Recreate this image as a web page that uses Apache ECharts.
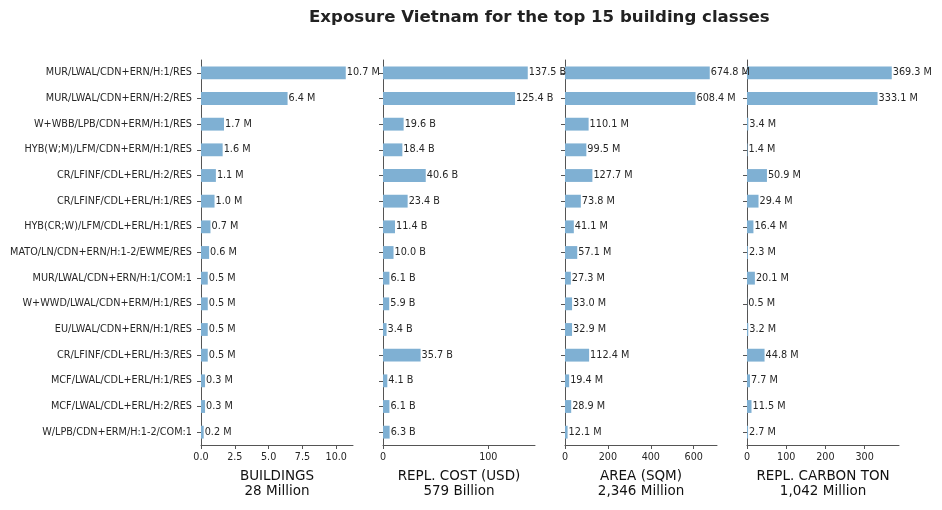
<!DOCTYPE html>
<html>
<head>
<meta charset="utf-8">
<script src="https://cdn.jsdelivr.net/npm/echarts@6/dist/echarts.min.js"></script>
<style>
  html, body { margin: 0; padding: 0; background: #fff; }
  #chart { width: 942px; height: 510px; }
</style>
</head>
<body>
<div id="chart"></div>
<script>
// building classes, top to bottom
const classes = [
  'MUR/LWAL/CDN+ERN/H:1/RES',
  'MUR/LWAL/CDN+ERN/H:2/RES',
  'W+WBB/LPB/CDN+ERM/H:1/RES',
  'HYB(W;M)/LFM/CDN+ERM/H:1/RES',
  'CR/LFINF/CDL+ERL/H:2/RES',
  'CR/LFINF/CDL+ERL/H:1/RES',
  'HYB(CR;W)/LFM/CDL+ERL/H:1/RES',
  'MATO/LN/CDN+ERN/H:1-2/EWME/RES',
  'MUR/LWAL/CDN+ERN/H:1/COM:1',
  'W+WWD/LWAL/CDN+ERM/H:1/RES',
  'EU/LWAL/CDN+ERN/H:1/RES',
  'CR/LFINF/CDL+ERL/H:3/RES',
  'MCF/LWAL/CDL+ERL/H:1/RES',
  'MCF/LWAL/CDL+ERL/H:2/RES',
  'W/LPB/CDN+ERM/H:1-2/COM:1'
];

// values per panel
const buildings = [10.7, 6.4, 1.7, 1.6, 1.1, 1.0, 0.7, 0.6, 0.5, 0.5, 0.5, 0.5, 0.3, 0.3, 0.2]; // million
const replCost = [137.5, 125.4, 19.6, 18.4, 40.6, 23.4, 11.4, 10.0, 6.1, 5.9, 3.4, 35.7, 4.1, 6.1, 6.3]; // billion USD
const area = [674.8, 608.4, 110.1, 99.5, 127.7, 73.8, 41.1, 57.1, 27.3, 33.0, 32.9, 112.4, 19.4, 28.9, 12.1]; // million sqm
const carbon = [369.3, 333.1, 3.4, 1.4, 50.9, 29.4, 16.4, 2.3, 20.1, 0.5, 3.2, 44.8, 7.7, 11.5, 2.7]; // million ton

// x tick labels per panel
const ticksBuildings = [0, 2.5, 5, 7.5, 10];
const ticksCost = [0, 100];
const ticksArea = [0, 200, 400, 600];
const ticksCarbon = [0, 100, 200, 300];

const panelNames = ['BUILDINGS\n28 Million', 'REPL. COST (USD)\n579 Billion', 'AREA (SQM)\n2,346 Million', 'REPL. CARBON TON\n1,042 Million'];
const units = [' M', ' B', ' M', ' M'];

const panels = [
  { data: buildings, ticks: ticksBuildings, dec: 1 },
  { data: replCost, ticks: ticksCost, dec: 0 },
  { data: area, ticks: ticksArea, dec: 0 },
  { data: carbon, ticks: ticksCarbon, dec: 0 }
];

const font = 'DejaVu Sans';
const axisColor = '#555';
const textColor = '#262626';
const barColor = '#7fb0d3';

const grids = [], xAxes = [], yAxes = [], series = [];
panels.forEach((p, i) => {
  grids.push({ left: 201 + i * 182, width: 152, top: 60, height: 385 });
  xAxes.push({
    type: 'value',
    gridIndex: i,
    min: 0,
    max: Math.max(...p.data) * 1.05,
    name: panelNames[i],
    nameLocation: 'middle',
    nameGap: 24,
    nameTextStyle: { fontFamily: font, fontSize: 13.5, color: '#111', lineHeight: 15 },
    axisLine: { show: true, lineStyle: { color: axisColor, width: 1 } },
    axisTick: { show: true, length: 4, lineStyle: { color: axisColor }, customValues: p.ticks },
    axisLabel: {
      fontFamily: font, fontSize: 9.6, color: textColor, margin: 7,
      customValues: p.ticks,
      formatter: v => v.toFixed(p.dec)
    },
    splitLine: { show: false }
  });
  yAxes.push({
    type: 'category',
    gridIndex: i,
    data: classes,
    inverse: true,
    axisLine: { show: true, lineStyle: { color: axisColor, width: 1 } },
    axisTick: { show: true, length: 4, alignWithLabel: true, lineStyle: { color: axisColor } },
    axisLabel: { show: i === 0, fontFamily: font, fontSize: 9.7, color: textColor, margin: 9 }
  });
  series.push({
    type: 'bar',
    xAxisIndex: i,
    yAxisIndex: i,
    data: p.data,
    barWidth: '50%',
    itemStyle: { color: barColor },
    label: {
      show: true,
      position: 'right',
      distance: 1,
      fontFamily: font,
      fontSize: 9.7,
      color: textColor,
      formatter: d => d.value.toFixed(1) + units[i]
    },
    silent: true
  });
});

const chart = echarts.init(document.getElementById('chart'));
chart.setOption({
  animation: false,
  backgroundColor: '#fff',
  title: {
    text: 'Exposure Vietnam for the top 15 building classes',
    left: 304,
    top: 4,
    textStyle: { fontFamily: font, fontSize: 16.6, fontWeight: 'bold', color: '#222' }
  },
  grid: grids,
  xAxis: xAxes,
  yAxis: yAxes,
  series: series
});
</script>
</body>
</html>
